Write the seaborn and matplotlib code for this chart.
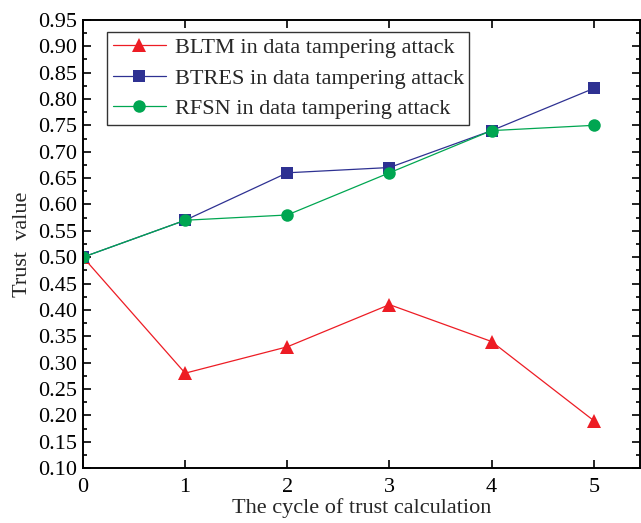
import numpy as np
import pandas as pd
import seaborn as sns
import matplotlib.pyplot as plt
from matplotlib.ticker import MultipleLocator

# Data
cycles = [0, 1, 2, 3, 4, 5]
bltm = [0.50, 0.28, 0.33, 0.41, 0.34, 0.19]
btres = [0.50, 0.57, 0.66, 0.67, 0.74, 0.82]
rfsn = [0.50, 0.57, 0.58, 0.66, 0.74, 0.75]
labels = ["BLTM in data tampering attack",
          "BTRES in data tampering attack",
          "RFSN in data tampering attack"]

sns.set_theme(style="ticks")
plt.rcParams['font.family'] = ['Liberation Serif', 'DejaVu Serif']

df = pd.DataFrame({
    "cycle": cycles * 3,
    "trust": bltm + btres + rfsn,
    "method": [labels[0]] * 6 + [labels[1]] * 6 + [labels[2]] * 6,
})

fig = plt.figure(figsize=(6.41, 5.23), dpi=100)
ax = fig.add_axes([0.1295, 0.105, 0.8685, 0.857])

palette = {labels[0]: "#ED1C24", labels[1]: "#2E3192", labels[2]: "#00A651"}
markers = {labels[0]: "^", labels[1]: "s", labels[2]: "o"}
sns.lineplot(data=df, x="cycle", y="trust", hue="method", style="method",
             palette=palette, markers=markers, dashes=False, linewidth=0.9,
             markersize=10, markeredgewidth=0, ax=ax)

# per-marker sizes (square and circle look smaller than the triangle)
msize = {"^": 10, "s": 8, "o": 9}
for ln in ax.lines:
    m = ln.get_marker()
    if m in msize:
        ln.set_markersize(msize[m])

ax.set_xlim(0, 5.45)
ax.set_ylim(0.10, 0.95)
ax.xaxis.set_major_locator(MultipleLocator(1))
ax.yaxis.set_major_locator(MultipleLocator(0.05))
ax.yaxis.set_minor_locator(MultipleLocator(0.025))
ax.yaxis.set_major_formatter(plt.FuncFormatter(lambda v, p: f"{v:.2f}"))
ax.tick_params(which="both", direction="in", top=True, right=True,
               labelsize=16, width=1.2, colors="black")
ax.tick_params(which="major", length=6, labelright=False, labeltop=False)
ax.tick_params(axis="y", which="minor", length=3)
ax.tick_params(axis="x", pad=7)
ax.tick_params(axis="y", pad=4)
for s in ax.spines.values():
    s.set_linewidth(1.4)
    s.set_color("black")

ax.set_xlabel("The cycle of trust calculation", fontsize=16, labelpad=1)
ax.set_ylabel("Trust  value", fontsize=16, labelpad=5)

leg = ax.legend(loc="upper left", bbox_to_anchor=(0.043, 0.973), fontsize=16,
                frameon=True, fancybox=False, edgecolor="black",
                handlelength=2.4, borderpad=0.25, labelspacing=0.45,
                handletextpad=0.4, borderaxespad=0)
leg.get_frame().set_linewidth(1.0)
for h in leg.legend_handles:
    m = h.get_marker()
    if m in msize:
        h.set_markersize(msize[m])

fig.savefig("out.png", dpi=100)
